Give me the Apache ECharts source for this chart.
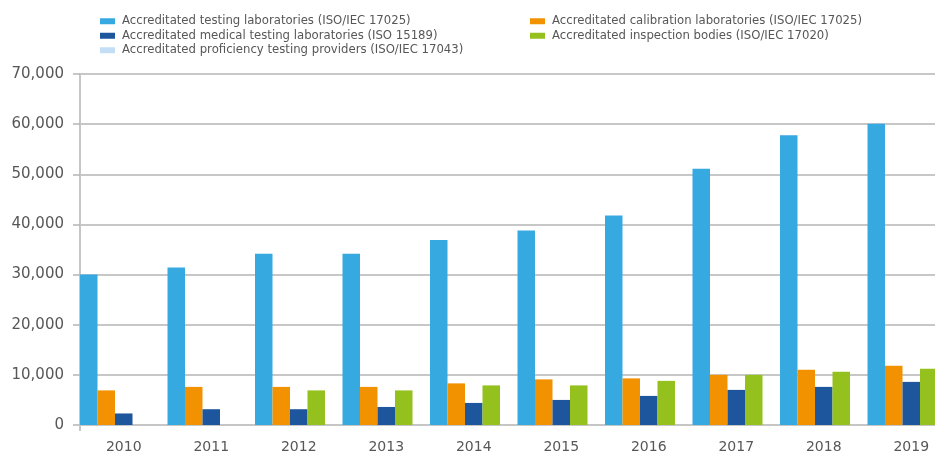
<!DOCTYPE html>
<html>
<head>
<meta charset="utf-8">
<script src="https://cdn.jsdelivr.net/npm/echarts@6/dist/echarts.min.js"></script>
<style>
  html, body { margin: 0; padding: 0; background: #fff; overflow: hidden; }
  /* plot runs past the right edge of the page, last group is cut off */
  #chart { width: 955px; height: 455px; }
</style>
</head>
<body>
<div id="chart"></div>
<script>
// Accreditations by year
const years = ['2010', '2011', '2012', '2013', '2014', '2015', '2016', '2017', '2018', '2019'];

const testingLabs     = [30000, 31400, 34150, 34150, 36900, 38800, 41800, 51100, 57800, 60100];
const calibrationLabs = [6900, 7600, 7600, 7600, 8300, 9100, 9300, 10000, 11000, 11800];
const medicalLabs     = [2300, 3150, 3150, 3600, 4400, 5000, 5800, 7000, 7600, 8600];
const inspectionBodies = [null, null, 6900, 6900, 7900, 7900, 8800, 10000, 10600, 11200];
const ptProviders     = [0, 0, 0, 0, 0, 0, 0, 0, 0, 0];

const yTicks = [0, 10000, 20000, 30000, 40000, 50000, 60000, 70000];

const seriesNames = {
  testing: 'Accreditated testing laboratories (ISO/IEC 17025)',
  calibration: 'Accreditated calibration laboratories (ISO/IEC 17025)',
  medical: 'Accreditated medical testing laboratories (ISO 15189)',
  inspection: 'Accreditated inspection bodies (ISO/IEC 17020)',
  pt: 'Accreditated proficiency testing providers (ISO/IEC 17043)'
};

const gridColor = '#b5b5b5';
const textColor = '#575757';
const font = 'DejaVu Sans';

const legendCommon = {
  orient: 'vertical',
  icon: 'rect',
  padding: 0,
  itemWidth: 15,
  itemHeight: 6,
  itemGap: 0,
  selectedMode: false,
  textStyle: {
    fontFamily: font,
    fontSize: 11.7,
    color: textColor,
    lineHeight: 14.5,
    padding: [0, 0, 0, 2]
  }
};

const chart = echarts.init(document.getElementById('chart'), null, { renderer: 'canvas' });

const fmt = v => v.toLocaleString('en-US');

chart.setOption({
  animation: false,
  backgroundColor: '#ffffff',
  legend: [
    Object.assign({}, legendCommon, {
      left: 100, top: 14,
      data: [seriesNames.testing, seriesNames.medical, seriesNames.pt]
    }),
    Object.assign({}, legendCommon, {
      left: 530, top: 14,
      data: [seriesNames.calibration, seriesNames.inspection]
    })
  ],
  grid: { left: 80, top: 74, right: 0, height: 351, containLabel: false },
  xAxis: {
    type: 'category',
    data: years,
    boundaryGap: true,
    axisLine: { show: true, lineStyle: { color: '#c6c6c6', width: 2 } },
    axisTick: {
      show: true, length: 6,
      interval: (i) => i === 0,
      lineStyle: { color: '#c6c6c6', width: 2 }
    },
    axisLabel: {
      margin: 15,
      fontFamily: font,
      fontSize: 14,
      color: textColor
    }
  },
  yAxis: {
    type: 'value',
    min: yTicks[0],
    max: yTicks[yTicks.length - 1],
    interval: yTicks[1] - yTicks[0],
    axisLine: { show: true, lineStyle: { color: '#c6c6c6', width: 2 } },
    axisTick: { show: true, length: 7, lineStyle: { color: gridColor, width: 1.5 } },
    splitLine: { show: true, lineStyle: { color: gridColor, width: 1.5 } },
    axisLabel: {
      margin: 16,
      fontFamily: font,
      fontSize: 15,
      color: textColor,
      formatter: fmt
    }
  },
  series: [
    { name: seriesNames.testing, type: 'bar', data: testingLabs, itemStyle: { color: '#36a9e1' } },
    { name: seriesNames.calibration, type: 'bar', data: calibrationLabs, itemStyle: { color: '#f39200' } },
    { name: seriesNames.medical, type: 'bar', data: medicalLabs, itemStyle: { color: '#1d569c' } },
    { name: seriesNames.inspection, type: 'bar', data: inspectionBodies, itemStyle: { color: '#95c11f' } },
    { name: seriesNames.pt, type: 'bar', data: ptProviders, itemStyle: { color: '#c4dff5' },
      barGap: '0%', barCategoryGap: '0%' }
  ]
});
</script>
</body>
</html>
